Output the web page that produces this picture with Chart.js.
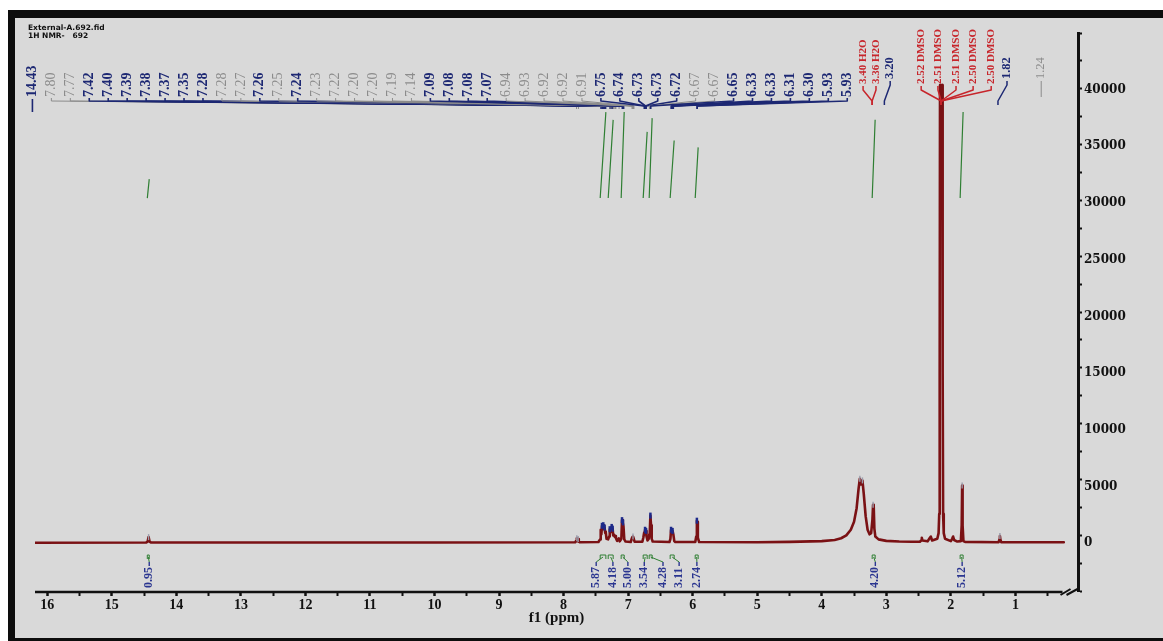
<!DOCTYPE html>
<html>
<head>
<meta charset="utf-8">
<title>1H NMR - 692</title>
<script src="https://cdn.jsdelivr.net/npm/chart.js@4.4.1/dist/chart.umd.min.js"></script>
<style>
	html, body { margin: 0; padding: 0; background: #fff; }
	#wrap { width: 1163px; height: 641px; }
</style>
</head>
<body>
<div id="wrap"><canvas id="nmr" width="1163" height="641"></canvas></div>
<script>
// spectrum trace [ppm, intensity]
const spectrum = [
	[16.19, -40], [14.47, -30], [14.445, 60], [14.43, 450], [14.415, 60], [14.39, -30], [10.0, -20],
	[7.82, 0], [7.805, 120], [7.795, 350], [7.785, 100], [7.775, 280], [7.765, 60], [7.75, 0],
	[7.46, 20], [7.435, 250], [7.425, 1100], [7.415, 700], [7.405, 1450], [7.395, 1150], [7.385, 1500],
	[7.375, 1200], [7.365, 1300], [7.355, 800], [7.348, 950], [7.335, 300],
	[7.31, 250], [7.295, 500], [7.285, 1150], [7.278, 900], [7.27, 1250], [7.262, 1000], [7.255, 1350],
	[7.247, 900], [7.24, 1200], [7.232, 600], [7.225, 700], [7.21, 500], [7.2, 550], [7.19, 350],
	[7.17, 120], [7.145, 350], [7.13, 80],
	[7.105, 300], [7.095, 1950], [7.085, 1500], [7.08, 1750], [7.072, 1400], [7.06, 250], [7.04, 60],
	[6.96, 20], [6.945, 300], [6.935, 450], [6.925, 500], [6.915, 350], [6.9, 40],
	[6.78, 40], [6.765, 400], [6.752, 850], [6.745, 700], [6.738, 1100], [6.73, 900], [6.723, 1000],
	[6.715, 500], [6.7, 150],
	[6.68, 300], [6.672, 700], [6.665, 900], [6.655, 2350], [6.645, 1500], [6.635, 300], [6.62, 60],
	[6.36, 20], [6.345, 300], [6.335, 1100], [6.325, 800], [6.312, 1000], [6.3, 700], [6.285, 100], [6.27, 20],
	[5.96, 20], [5.945, 500], [5.935, 1900], [5.928, 1800], [5.92, 400], [5.9, 20],
	[5.0, 0], [4.5, 30], [4.0, 100], [3.8, 200], [3.7, 350], [3.62, 600], [3.55, 1100], [3.5, 1800],
	[3.46, 3000], [3.43, 4700], [3.41, 5600], [3.39, 5100], [3.37, 5450], [3.35, 4300], [3.32, 2300],
	[3.29, 1100], [3.26, 700], [3.235, 800], [3.215, 2000], [3.205, 3300], [3.195, 3150], [3.185, 1200],
	[3.17, 500], [3.12, 250], [3.0, 120], [2.8, 60], [2.6, 40],
	[2.48, 40], [2.46, 150], [2.45, 400], [2.44, 150], [2.36, 80], [2.33, 350], [2.31, 500], [2.29, 150],
	[2.21, 300], [2.19, 800], [2.18, 2500], [2.173, 15000], [2.168, 40300], [2.132, 40300], [2.127, 15000],
	[2.12, 2500], [2.11, 800], [2.09, 300],
	[2.0, 100], [1.98, 300], [1.965, 500], [1.95, 200], [1.9, 60],
	[1.845, 100], [1.832, 1500], [1.825, 5000], [1.818, 1500], [1.805, 100], [1.78, 30],
	[1.26, 0], [1.247, 250], [1.24, 550], [1.233, 250], [1.22, 0], [0.25, 0],
]

// peak-pick marks on the peak tops
const markPpm = [14.43, 7.795, 7.775, 7.405, 7.385, 7.365, 7.285, 7.255, 7.24, 7.095, 7.08, 6.925, 6.738, 6.723, 6.655, 6.335, 6.312, 5.935, 3.41, 3.37, 3.205, 1.825, 1.24]
const markInt = [450, 350, 280, 1450, 1500, 1300, 1150, 1350, 1200, 1950, 1750, 500, 1100, 1000, 2350, 1100, 1000, 1900, 5600, 5450, 3300, 5000, 550]
const markKind = ['g', 'g', 'g', 'b', 'b', 'b', 'b', 'b', 'b', 'b', 'b', 'g', 'b', 'b', 'b', 'b', 'b', 'b', 'g', 'g', 'g', 'g', 'g']

// peak labels across the top (b = bold blue, g = grey, r = red solvent)
const leftLabels = ['14.43', '7.80', '7.77', '7.42', '7.40', '7.39', '7.38', '7.37', '7.35', '7.28', '7.28', '7.27', '7.26', '7.25', '7.24', '7.23', '7.22', '7.20', '7.20', '7.19', '7.14', '7.09', '7.08', '7.08', '7.07', '6.94', '6.93', '6.92', '6.92', '6.91', '6.75', '6.74', '6.73', '6.73', '6.72', '6.67', '6.67', '6.65', '6.33', '6.33', '6.31', '6.30', '5.93', '5.93']
const leftKinds = ['b', 'g', 'g', 'b', 'b', 'b', 'b', 'b', 'b', 'b', 'g', 'g', 'b', 'g', 'b', 'g', 'g', 'g', 'g', 'g', 'g', 'b', 'b', 'b', 'b', 'g', 'g', 'g', 'g', 'g', 'b', 'b', 'b', 'b', 'b', 'g', 'g', 'b', 'b', 'b', 'b', 'b', 'b', 'b']
const rightLabels = ['3.40 H2O', '3.36 H2O', '3.20', '2.52 DMSO', '2.51 DMSO', '2.51 DMSO', '2.50 DMSO', '2.50 DMSO', '1.82', '1.24']
const rightKinds = ['r', 'r', 'b', 'r', 'r', 'r', 'r', 'r', 'b', 'g']
const rightSlotPpm = [3.36, 3.16, 2.94, 2.46, 2.2, 1.92, 1.655, 1.375, 1.13, 0.6]
const rightAnchorPpm = [3.22, 3.22, 3.03, 2.15, 2.15, 2.15, 2.15, 2.15, 1.27, null]
const soloLabels = ['14.43', '1.24']

// integrals
const intText = ['0.95', '5.87', '4.18', '5.00', '3.54', '4.28', '3.11', '2.74', '4.20', '5.12']
const intFrom = [14.45, 7.433, 7.309, 7.108, 6.767, 6.674, 6.349, 5.961, 3.219, 1.856]
const intTo = [14.42, 7.345, 7.232, 7.061, 6.705, 6.628, 6.287, 5.915, 3.173, 1.81]
const intCurveTop = [22, 100, 91, 100, 77, 93, 67, 59, 91, 100]
const intLabelPpm = [14.42, 7.495, 7.236, 7.004, 6.75, 6.46, 6.21, 5.935, 3.17, 1.825]

// axes
const ppmMin = 0.03
const ppmMax = 16.19
const intensityMin = -4300
const intensityMax = 44900
const intensityLabels = [0, 5000, 10000, 15000, 20000, 25000, 30000, 35000, 40000]

const ink = { b: '#1d2873', g: '#8c8c8c', r: '#c7252b' }
const traceColour = '#7a1114'
const integralGreen = '#2f7f33'
const integralBlue = '#2a3590'

const labelSlotFirst = 16.23
const labelSlotStep = 0.2936

function upText(ctx, text, x, yBottom) {
	ctx.save()
	ctx.translate(x, yBottom)
	ctx.rotate(-Math.PI / 2)
	ctx.textAlign = 'left'
	ctx.textBaseline = 'middle'
	ctx.fillText(text, 0, 0)
	ctx.restore()
}

const framePlugin = {
	id: 'frame',
	beforeDraw(chart) {
		const { ctx, width, height } = chart
		ctx.save()
		ctx.fillStyle = '#ffffff'
		ctx.fillRect(0, 0, width, height)
		ctx.fillStyle = '#0d0d0d'
		ctx.fillRect(8, 10, width - 8, height - 10)
		ctx.fillStyle = '#d9d9d9'
		ctx.fillRect(15, 18, width - 15, height - 21)
		ctx.fillStyle = '#111'
		ctx.font = 'bold 7.5px "DejaVu Sans"'
		ctx.textBaseline = 'alphabetic'
		ctx.fillText('External-A.692.fid', 28, 30)
		ctx.fillText('1H NMR-   692', 28, 38)
		ctx.restore()
	},
}

const annotationPlugin = {
	id: 'nmrAnnotations',
	afterDraw(chart) {
		const { ctx, chartArea } = chart
		const px = (v) => chart.scales.x.getPixelForValue(v)
		ctx.save()
		ctx.lineJoin = 'round'

		// aromatic label block
		leftLabels.forEach((t, i) => {
			const kind = leftKinds[i]
			const sx = px(labelSlotFirst - i * labelSlotStep)
			ctx.fillStyle = ink[kind]
			ctx.strokeStyle = ink[kind]
			ctx.font = (kind === 'g' ? '' : 'bold ') + '14px "Liberation Serif"'
			upText(ctx, t, sx, 97)
			ctx.lineWidth = kind === 'g' ? 1 : 1.6
			ctx.beginPath()
			if (soloLabels.includes(t)) {
				ctx.moveTo(sx, 99)
				ctx.lineTo(sx, 112)
			} else {
				const ax = px(Number(t))
				ctx.moveTo(sx, 98)
				ctx.lineTo(sx, 101)
				ctx.lineTo(ax, 106)
				ctx.lineTo(ax, 109)
			}
			ctx.stroke()
		})

		// solvent / aliphatic labels
		rightLabels.forEach((t, i) => {
			const kind = rightKinds[i]
			const sx = px(rightSlotPpm[i])
			const bottom = kind === 'r' ? 84 : 79
			ctx.fillStyle = ink[kind]
			ctx.strokeStyle = ink[kind]
			ctx.font = (kind === 'g' ? '' : 'bold ') + (kind === 'r' ? '11px' : '12.5px') + ' "Liberation Serif"'
			upText(ctx, t, sx, bottom)
			ctx.lineWidth = kind === 'g' ? 1 : 1.5
			ctx.beginPath()
			if (rightAnchorPpm[i] === null) {
				ctx.moveTo(sx, bottom + 2)
				ctx.lineTo(sx, 97)
			} else {
				const ax = px(rightAnchorPpm[i])
				ctx.moveTo(sx, bottom + 2)
				ctx.lineTo(sx, bottom + 6)
				ctx.lineTo(ax, 101)
				ctx.lineTo(ax, 105)
			}
			ctx.stroke()
		})

		// integral values under the trace
		intText.forEach((t, i) => {
			const lx = px(intLabelPpm[i])
			const a = px(intFrom[i])
			const b = px(intTo[i])
			ctx.fillStyle = integralBlue
			ctx.font = 'bold 12px "Liberation Serif"'
			upText(ctx, t, lx, 588)
			ctx.strokeStyle = integralBlue
			ctx.lineWidth = 1.4
			ctx.beginPath()
			ctx.moveTo(lx, 566)
			ctx.lineTo(lx, 562)
			ctx.stroke()
			ctx.strokeStyle = integralGreen
			ctx.lineWidth = 1
			ctx.beginPath()
			ctx.moveTo(lx, 562)
			ctx.lineTo((a + b) / 2, 557)
			ctx.moveTo(a, 559)
			ctx.lineTo(a, 555)
			ctx.lineTo(b, 555)
			ctx.lineTo(b, 559)
			ctx.stroke()
		})

		// x axis line with the break before the right axis
		const yb = chartArea.bottom + 1
		const xe = px(0.27)
		ctx.strokeStyle = '#111'
		ctx.lineWidth = 2.5
		ctx.beginPath()
		ctx.moveTo(chartArea.left, yb)
		ctx.lineTo(xe, yb)
		ctx.stroke()
		ctx.lineWidth = 2
		ctx.beginPath()
		ctx.moveTo(xe - 2, yb + 3)
		ctx.lineTo(xe + 8, yb - 3)
		ctx.moveTo(xe + 4, yb + 3)
		ctx.lineTo(xe + 15, yb - 3)
		ctx.stroke()

		// intensity labels next to the right axis ticks
		const yScale = chart.scales.y
		ctx.fillStyle = '#111'
		ctx.font = 'bold 12px "DejaVu Serif"'
		ctx.textAlign = 'left'
		ctx.textBaseline = 'middle'
		intensityLabels.forEach((v) => {
			ctx.fillText(String(v), yScale.left + 6, yScale.getPixelForValue(v) + 1)
		})
		ctx.restore()
	},
}

const integralPoints = []
intFrom.forEach((f, i) => {
	integralPoints.push({ x: f, y: 0 }, { x: intTo[i], y: intCurveTop[i] }, { x: intTo[i], y: null })
})

new Chart(document.getElementById('nmr').getContext('2d'), {
	type: 'line',
	data: {
		datasets: [
			{
				label: 'peak marks',
				data: markPpm.map((x, i) => ({ x, y: markInt[i] })),
				showLine: false,
				pointStyle: 'line',
				pointRotation: 90,
				pointRadius: 3,
				pointBorderWidth: markKind.map((k) => (k === 'b' ? 2.5 : 1.4)),
				pointBorderColor: markKind.map((k) => (k === 'b' ? '#1d2a8a' : '#9a9cab')),
				yAxisID: 'y',
				order: 0,
			},
			{
				label: 'spectrum',
				data: spectrum.map(([x, y]) => ({ x, y })),
				borderColor: traceColour,
				borderWidth: 2.6,
				borderJoinStyle: 'round',
				borderCapStyle: 'round',
				pointRadius: 0,
				tension: 0,
				yAxisID: 'y',
				order: 1,
			},
			{
				label: 'integrals',
				data: integralPoints,
				borderColor: integralGreen,
				borderWidth: 1.2,
				pointRadius: 0,
				spanGaps: false,
				yAxisID: 'yInt',
				order: 2,
			},
		],
	},
	options: {
		responsive: false,
		animation: false,
		devicePixelRatio: 1,
		layout: { padding: { left: 35, top: 33, right: 0, bottom: 0 } },
		plugins: { legend: { display: false }, tooltip: { enabled: false } },
		scales: {
			x: {
				type: 'linear',
				reverse: true,
				min: ppmMin,
				max: ppmMax,
				afterFit: (scale) => { scale.height = 50 },
				border: { display: false },
				grid: { drawOnChartArea: false, drawTicks: true, tickLength: 5, tickColor: '#111', tickWidth: (c) => (Number.isInteger(c.tick.value) ? 2.5 : 2) },
				ticks: {
					stepSize: 0.5,
					autoSkip: false,
					includeBounds: false,
					maxRotation: 0,
					padding: 1,
					color: '#111',
					font: { family: '"Liberation Serif"', size: 14, weight: 'bold' },
					callback: (v) => (Number.isInteger(v) ? String(v) : ''),
				},
				title: {
					display: true,
					text: 'f1 (ppm)',
					color: '#111',
					font: { family: '"Liberation Serif"', size: 15, weight: 'bold' },
					padding: { top: 0, bottom: 14 },
				},
			},
			y: {
				position: 'right',
				min: intensityMin,
				max: intensityMax,
				afterFit: (scale) => { scale.width = 85 },
				border: { display: true, color: '#111', width: 3 },
				grid: { drawOnChartArea: false, drawTicks: true, tickLength: 4, tickColor: '#111', tickWidth: 2 },
				ticks: {
					display: false,
					stepSize: 2500,
					includeBounds: false,
					autoSkip: false,
				},
			},
			yInt: { display: false, min: -457, max: 192 },
		},
	},
	plugins: [framePlugin, annotationPlugin],
})
</script>
</body>
</html>
